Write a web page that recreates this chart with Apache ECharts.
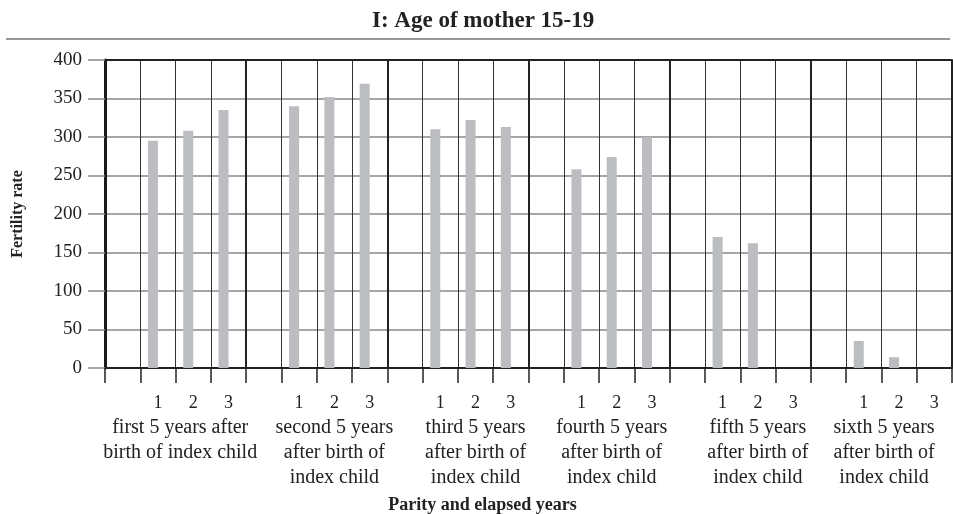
<!DOCTYPE html>
<html>
<head>
<meta charset="utf-8">
<script src="https://cdn.jsdelivr.net/npm/echarts@6/dist/echarts.min.js"></script>
<style>
  html, body { margin: 0; padding: 0; background: #fff; }
  #chart { width: 953px; height: 514px; }
</style>
</head>
<body>
<div id="chart"></div>
<script>
// parity groups (one per 5-year period after the index child)
const groupNames = [
  'first 5 years after\nbirth of index child',
  'second 5 years\nafter birth of\nindex child',
  'third 5 years\nafter birth of\nindex child',
  'fourth 5 years\nafter birth of\nindex child',
  'fifth 5 years\nafter birth of\nindex child',
  'sixth 5 years\nafter birth of\nindex child'
]
// slot labels inside each group (first slot is left empty)
const yearTicks = ['', '1', '2', '3']
// fertility rate by elapsed year
const year1 = [295, 340, 310, 258, 170, 35]
const year2 = [308, 352, 322, 274, 162, 14]
const year3 = [335, 369, 313, 300, null, null]
const yTicks = [0, 50, 100, 150, 200, 250, 300, 350, 400]

const FONT = '"Liberation Serif", "DejaVu Serif", serif'

// build the 24 slots
const slots = []
const values = []
groupNames.forEach((g, gi) => {
  yearTicks.forEach((t, ti) => {
    slots.push(t)
    if (ti === 0) values.push(null)
    else values.push([year1, year2, year3][ti - 1][gi])
  })
})

// the group captions sit a little left of centre for some groups in the source
const groupShift = [-13, 0, 0, -5, 0, -15]
const rich = {
  n: { fontFamily: FONT, fontSize: 18, lineHeight: 24, color: '#222' }
}
groupShift.forEach((s, i) => {
  rich['g' + i] = {
    fontFamily: FONT, fontSize: 20, lineHeight: 25, color: '#222',
    padding: s < 0 ? [0, -2 * s, 0, 0] : [0, 0, 0, 2 * s]
  }
})

const chart = echarts.init(document.getElementById('chart'))

const option = {
  animation: false,
  title: {
    text: 'I: Age of mother 15-19',
    left: 367,
    top: 5,
    textStyle: { fontFamily: FONT, fontSize: 23, fontWeight: 'bold', color: '#222' }
  },
  graphic: [
    {
      type: 'line',
      shape: { x1: 6, y1: 39, x2: 950, y2: 39 },
      style: { stroke: '#333', lineWidth: 1 }
    }
  ],
  grid: {
    left: 105,
    right: 1,
    top: 60,
    bottom: 146,
    outerBoundsMode: 'none'
  },
  xAxis: [
    {
      type: 'category',
      position: 'bottom',
      data: slots,
      boundaryGap: true,
      axisLine: { lineStyle: { color: '#222', width: 2 } },
      axisTick: { show: true, interval: 0, length: 15, lineStyle: { color: '#222', width: 1.5 } },
      splitLine: { show: true, interval: 0, lineStyle: { color: '#333', width: 1 } },
      axisLabel: {
        interval: 0,
        margin: 23,
        formatter: (value, index) => {
          const gi = Math.floor(index / 4)
          if (index % 4 === 2) {
            return '{n|' + value + '}\n' + groupNames[gi].split('\n').map(l => '{g' + gi + '|' + l + '}').join('\n')
          }
          return value ? '{n|' + value + '}' : ''
        },
        rich: rich
      },
      name: 'Parity and elapsed years',
      nameLocation: 'middle',
      nameGap: 128,
      nameTextStyle: {
        fontFamily: FONT, fontSize: 18, fontWeight: 'bold', color: '#222',
        padding: [0, 92, 0, 0]
      }
    },
    {
      type: 'category',
      position: 'top',
      data: groupNames,
      boundaryGap: true,
      axisLine: { lineStyle: { color: '#222', width: 2 } },
      axisTick: { show: false },
      axisLabel: { show: false },
      splitLine: { show: true, interval: 0, lineStyle: { color: '#222', width: 2 } }
    }
  ],
  yAxis: {
    type: 'value',
    min: yTicks[0],
    max: yTicks[yTicks.length - 1],
    interval: 50,
    axisLine: { show: true, lineStyle: { color: '#1a1a1a', width: 3 } },
    axisTick: { show: true, length: 17, lineStyle: { color: '#888', width: 1.5 } },
    splitLine: { show: true, lineStyle: { color: '#888', width: 1.5 } },
    axisLabel: { margin: 23, fontFamily: FONT, fontSize: 19, color: '#222' },
    name: 'Fertility rate',
    nameLocation: 'middle',
    nameGap: 79,
    nameTextStyle: { fontFamily: FONT, fontSize: 16, fontWeight: 'bold', color: '#222' }
  },
  series: [
    {
      name: 'Fertility rate',
      type: 'bar',
      xAxisIndex: 0,
      data: values,
      barWidth: 10,
      barGap: '0%',
      itemStyle: { color: '#bcbdc0' }
    },
    {
      // empty companion series, keeps the bars left of slot centre as in the source
      name: 'spacer',
      type: 'bar',
      xAxisIndex: 0,
      data: values.map(() => null),
      barWidth: 10,
      barGap: '0%'
    }
  ]
}

chart.setOption(option)
</script>
</body>
</html>
